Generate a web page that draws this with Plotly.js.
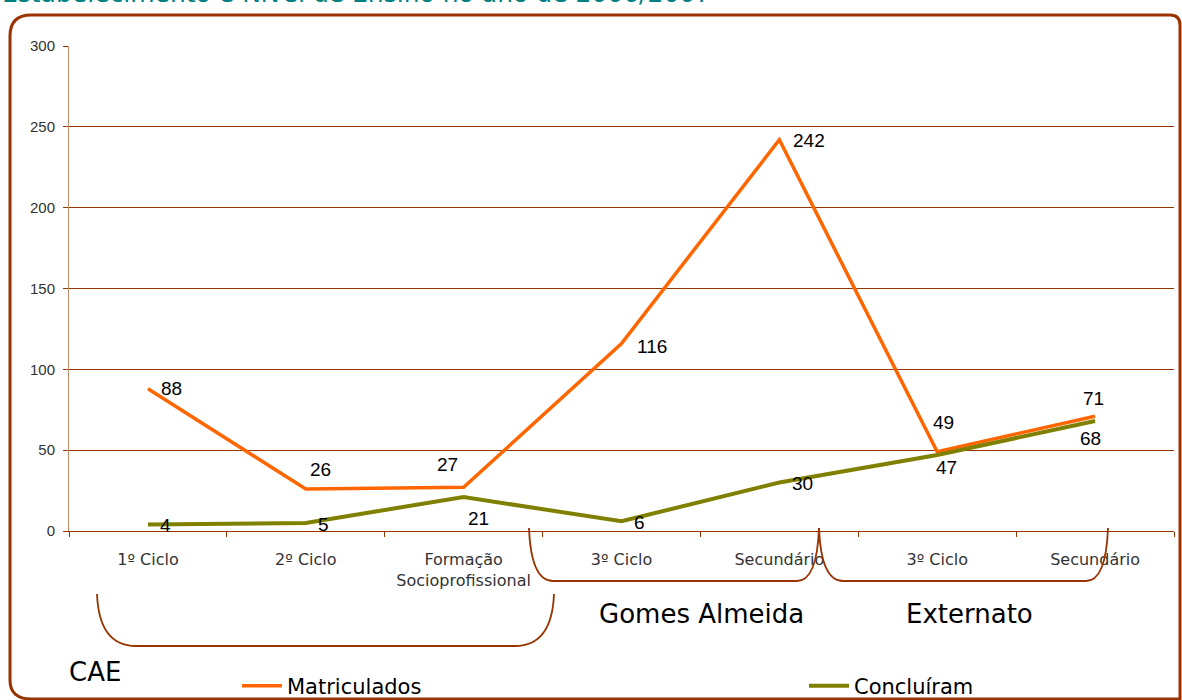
<!DOCTYPE html>
<html>
<head>
<meta charset="utf-8">
<script src="https://cdn.plot.ly/plotly-3.0.1.min.js"></script>
<style>html,body{margin:0;padding:0;background:#fff;overflow:hidden;}#chart{width:1182px;height:700px;}</style>
</head>
<body>
<div id="chart"></div>
<script>
// ---- data ----
const categories = ['1º Ciclo', '2º Ciclo', 'Formação<br>Socioprofissional', '3º Ciclo', 'Secundário', '3º Ciclo', 'Secundário'];
const matriculados = [88, 26, 27, 116, 242, 49, 71];
const concluiram = [4, 5, 21, 6, 30, 47, 68];
const seriesNames = ['Matriculados', 'Concluíram'];
const groupNames = ['CAE', 'Gomes Almeida', 'Externato'];
const titleText = 'Estabelecimento e Nível de Ensino no ano de 2006/2007';
const yTicks = [0, 50, 100, 150, 200, 250, 300];

// ---- layout geometry (pixels) ----
const L = 69, T = 46, W = 1105, H = 485, FW = 1182, FH = 700;
const X = px => (px - L) / W;
const Y = py => (T + H - py) / H;

const xIdx = categories.map((_, i) => i);
const boundaries = categories.map((_, i) => i - 0.5).concat([categories.length - 0.5]);

// label offsets (style only)
const shiftM = [[24, 0], [15, 19], [-16, 23], [30, -3], [30, -1], [6, 29], [-2, 18]];
const shiftC = [[18, -1], [18, -2], [15, -21], [18, -1], [23, -1], [9, -12], [-5, -17]];

const COL_M = '#ff6600', COL_C = '#808000', BROWN = '#993300';

const traces = [
  {x: xIdx, y: matriculados, name: seriesNames[0], type: 'scatter', mode: 'lines',
   line: {color: COL_M, width: 3.5}, legend: 'legend'},
  {x: xIdx, y: concluiram, name: seriesNames[1], type: 'scatter', mode: 'lines',
   line: {color: COL_C, width: 4}, legend: 'legend2'}
];

const annotations = [];
const labFont = {family: 'Liberation Sans, Arial, sans-serif', size: 19, color: '#000'};
matriculados.forEach((v, i) => annotations.push({x: xIdx[i], y: v, xref: 'x', yref: 'y', text: String(v),
  showarrow: false, xshift: shiftM[i][0], yshift: shiftM[i][1], font: labFont}));
concluiram.forEach((v, i) => annotations.push({x: xIdx[i], y: v, xref: 'x', yref: 'y', text: String(v),
  showarrow: false, xshift: shiftC[i][0], yshift: shiftC[i][1], font: labFont}));

const grpFont = {family: 'DejaVu Sans, sans-serif', size: 26, color: '#000'};
annotations.push({xref: 'paper', yref: 'paper', x: X(67), y: Y(672), xanchor: 'left', yanchor: 'middle',
  text: groupNames[0], showarrow: false, font: grpFont});
annotations.push({xref: 'paper', yref: 'paper', x: X(701), y: Y(614), xanchor: 'center', yanchor: 'middle',
  text: groupNames[1], showarrow: false, font: grpFont});
annotations.push({xref: 'paper', yref: 'paper', x: X(969), y: Y(614), xanchor: 'center', yanchor: 'middle',
  text: groupNames[2], showarrow: false, font: grpFont});
annotations.push({xref: 'paper', yref: 'paper', x: X(0), y: Y(-6), xanchor: 'left', yanchor: 'middle',
  text: titleText, showarrow: false, font: {family: 'DejaVu Sans, sans-serif', size: 25, color: '#008080'}});

function pPath(pts) {
  return pts.map(c => c[0] + ' ' + c.slice(1).map((v, k) => (k % 2 === 0 ? X(v) : Y(v)).toFixed(5)).join(',')).join(' ');
}

const shapes = [
  {type: 'path', xref: 'paper', yref: 'paper', layer: 'below', line: {color: BROWN, width: 3},
   path: pPath([['M', 10, 36], ['Q', 10, 15, 31, 15], ['L', 1170, 15], ['Q', 1180, 15, 1180, 25],
                ['L', 1180, 699], ['L', 31, 699], ['Q', 10, 699, 10, 680], ['Z']])},
  {type: 'path', xref: 'paper', yref: 'paper', line: {color: BROWN, width: 1.8},
   path: pPath([['M', 97, 594], ['Q', 99, 646, 136, 646], ['L', 515, 646], ['Q', 552, 646, 554, 594]])},
  {type: 'path', xref: 'paper', yref: 'paper', line: {color: BROWN, width: 1.8},
   path: pPath([['M', 529, 528], ['Q', 531, 581, 553, 581], ['L', 797, 581], ['Q', 817, 581, 819, 528]])},
  {type: 'path', xref: 'paper', yref: 'paper', line: {color: BROWN, width: 1.8},
   path: pPath([['M', 819, 528], ['Q', 821, 581, 843, 581], ['L', 1086, 581], ['Q', 1106, 581, 1108, 528]])}
];

const legFont = {family: 'DejaVu Sans, sans-serif', size: 21, color: '#000'};
const layout = {
  width: FW, height: FH,
  margin: {l: L, r: FW - L - W, t: T, b: FH - T - H, pad: 0, autoexpand: false},
  paper_bgcolor: '#ffffff', plot_bgcolor: '#ffffff',
  showlegend: true,
  legend: {orientation: 'h', x: X(237), y: Y(686), xanchor: 'left', yanchor: 'middle', itemwidth: 40,
           bgcolor: 'rgba(0,0,0,0)', font: legFont},
  legend2: {orientation: 'h', x: X(804), y: Y(686), xanchor: 'left', yanchor: 'middle', itemwidth: 40,
           bgcolor: 'rgba(0,0,0,0)', font: legFont},
  xaxis: {type: 'linear', range: [-0.5, categories.length - 0.5], tickmode: 'array', tickvals: xIdx,
          ticktext: categories, ticks: '', showgrid: false, zeroline: false,
          showline: true, linecolor: BROWN, linewidth: 1,
          ticklabelstandoff: 14,
          tickfont: {family: 'DejaVu Sans, sans-serif', size: 16, color: '#333'},
          minor: {tickmode: 'array', tickvals: boundaries, ticks: 'outside', ticklen: 5, tickcolor: BROWN, tickwidth: 1, showgrid: false},
          fixedrange: true},
  yaxis: {range: [0, 300], tickmode: 'array', tickvals: yTicks, ticks: 'outside', ticklen: 5,
          tickcolor: BROWN, showgrid: true, gridcolor: BROWN, gridwidth: 1, zeroline: false,
          showline: true, linecolor: '#c08a66', linewidth: 1, ticklabelstandoff: 5,
          tickfont: {family: 'Liberation Sans, Arial, sans-serif', size: 15, color: '#333'},
          fixedrange: true},
  annotations: annotations,
  shapes: shapes
};

Plotly.newPlot('chart', traces, layout, {displayModeBar: false, staticPlot: true});
</script>
</body>
</html>
